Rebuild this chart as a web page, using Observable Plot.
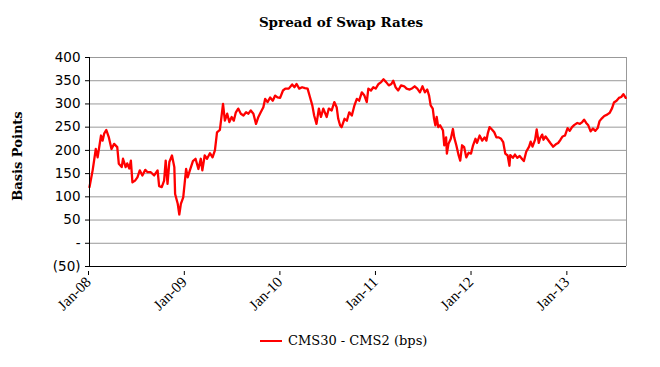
<!DOCTYPE html>
<html>
<head>
<meta charset="utf-8">
<script src="https://cdn.jsdelivr.net/npm/d3@7"></script>
<script src="https://cdn.jsdelivr.net/npm/@observablehq/plot@0.6"></script>
<style>
  html, body { margin: 0; padding: 0; background: #fff; }
  #wrap { width: 660px; height: 367px; overflow: hidden; background: #fff; }
  #title { height: 45px; box-sizing: border-box; padding-top: 14px; padding-left: 22px; text-align: center;
           font-family: "DejaVu Serif", serif; font-weight: bold; font-size: 13.5px; line-height: 16px; color: #000; }
  #legend { height: 47px; box-sizing: border-box; padding-top: 13px; padding-left: 260px;
            font-family: "DejaVu Serif", serif; font-size: 13px; line-height: 16px; color: #000; white-space: nowrap; }
  #legend .swatch { display: inline-block; width: 22px; height: 0; border-top: 2px solid #ff0000; vertical-align: middle; margin-right: 6px; position: relative; top: -1px; }
  svg { display: block; }
</style>
</head>
<body>
<div id="wrap">
  <div id="title">Spread of Swap Rates</div>
  <div id="chart"></div>
  <div id="legend"><span class="swatch"></span>CMS30 - CMS2 (bps)</div>
</div>
<script>
const seriesName = "CMS30 - CMS2 (bps)";
const dates = [
"2008-01-01","2008-01-13","2008-01-25","2008-02-01","2008-02-14","2008-02-20","2008-02-26","2008-03-05","2008-03-15","2008-03-25",
"2008-04-04","2008-04-16","2008-04-22","2008-05-03","2008-05-08","2008-05-18","2008-05-24","2008-06-01","2008-06-07","2008-06-13",
"2008-06-23","2008-07-02","2008-07-11","2008-07-21","2008-08-01","2008-08-10","2008-08-22","2008-09-04","2008-09-17","2008-09-23",
"2008-10-03","2008-10-12","2008-10-18","2008-10-25","2008-11-01","2008-11-11","2008-11-20","2008-11-23","2008-12-03","2008-12-09",
"2008-12-15","2008-12-24","2009-01-04","2009-01-10","2009-01-19","2009-01-30","2009-02-09","2009-02-20","2009-03-01","2009-03-07",
"2009-03-16","2009-03-25","2009-04-05","2009-04-15","2009-04-24","2009-05-02","2009-05-13","2009-05-19","2009-05-25","2009-06-01",
"2009-06-10","2009-06-18","2009-06-27","2009-07-05","2009-07-13","2009-07-22","2009-08-01","2009-08-11","2009-08-21","2009-08-30",
"2009-09-08","2009-09-18","2009-09-28","2009-10-07","2009-10-16","2009-10-26","2009-11-02","2009-11-11","2009-11-21","2009-12-01",
"2009-12-10","2009-12-19","2009-12-29","2010-01-09","2010-01-18","2010-01-31","2010-02-13","2010-02-22","2010-03-02","2010-03-12",
"2010-03-23","2010-04-03","2010-04-13","2010-04-22","2010-05-01","2010-05-08","2010-05-17","2010-05-26","2010-06-03","2010-06-12",
"2010-06-25","2010-07-03","2010-07-14","2010-07-24","2010-08-02","2010-08-08","2010-08-15","2010-08-21","2010-09-01","2010-09-10",
"2010-09-19","2010-09-29","2010-10-09","2010-10-18","2010-10-27","2010-11-06","2010-11-16","2010-11-25","2010-12-01","2010-12-11",
"2010-12-20","2010-12-29","2011-01-09","2011-01-19","2011-01-28","2011-02-07","2011-02-17","2011-02-27","2011-03-06","2011-03-15",
"2011-03-25","2011-04-05","2011-04-17","2011-04-26","2011-05-08","2011-05-18","2011-05-27","2011-06-06","2011-06-16","2011-06-26",
"2011-07-05","2011-07-14","2011-07-21","2011-07-27","2011-08-04","2011-08-09","2011-08-14","2011-08-19","2011-08-25","2011-09-01",
"2011-09-12","2011-09-17","2011-09-24","2011-09-27","2011-10-03","2011-10-12","2011-10-20","2011-10-25","2011-11-02","2011-11-11",
"2011-11-17","2011-11-24","2011-12-02","2011-12-10","2011-12-19","2011-12-28","2012-01-05","2012-01-14","2012-01-20","2012-01-30",
"2012-02-09","2012-02-18","2012-02-25","2012-03-01","2012-03-08","2012-03-17","2012-03-26","2012-04-03","2012-04-12","2012-04-21",
"2012-04-29","2012-05-07","2012-05-16","2012-05-23","2012-05-26","2012-06-05","2012-06-13","2012-06-22","2012-07-01","2012-07-11",
"2012-07-17","2012-07-26","2012-08-06","2012-08-12","2012-08-19","2012-08-29","2012-09-04","2012-09-12","2012-09-17","2012-09-25",
"2012-09-30","2012-10-08","2012-10-17","2012-10-26","2012-11-06","2012-11-16","2012-11-25","2012-12-04","2012-12-12","2012-12-21",
"2012-12-31","2013-01-08","2013-01-17","2013-01-26","2013-02-06","2013-02-16","2013-02-25","2013-03-04","2013-03-12","2013-03-20",
"2013-03-29","2013-04-07","2013-04-16","2013-04-25","2013-05-02","2013-05-11","2013-05-20","2013-05-31","2013-06-10","2013-06-19",
"2013-06-26","2013-07-06","2013-07-15","2013-07-24","2013-08-01","2013-08-10"
];
const spread = [
121,157,203,185,232,221,236,244,228,203,
214,207,171,164,182,164,172,161,178,131,
135,142,157,146,158,153,153,146,157,123,
121,135,178,128,175,189,164,106,85,62,
85,99,160,142,158,177,182,160,182,157,
189,182,194,185,200,239,244,272,300,264,
279,261,272,264,282,290,279,275,282,279,
286,279,257,272,282,293,311,304,314,307,
318,314,313,329,333,333,342,336,343,333,
336,334,333,315,297,275,257,290,272,290,
272,290,286,304,293,268,254,250,268,264,
282,275,297,311,307,325,318,304,333,329,
336,333,343,347,353,347,340,343,350,336,
329,340,338,333,331,334,338,333,325,338,
325,331,318,297,290,268,254,272,250,254,
243,211,228,193,214,225,246,228,211,189,
178,211,207,185,195,193,211,225,216,232,
221,228,221,236,250,245,239,228,228,225,
218,193,189,167,190,184,191,184,188,181,
177,197,208,219,208,223,245,216,226,234,
223,230,223,216,208,213,216,223,230,232,
248,242,250,255,259,257,261,266,259,254,
241,247,242,248,263,269,274,277,281,291,
303,307,313,315,321,313
];
const yTicks = [-50, 0, 50, 100, 150, 200, 250, 300, 350, 400];
const xTickLabels = ["Jan-08","Jan-09","Jan-10","Jan-11","Jan-12","Jan-13"];
const xStart = "2008-01-01";
const xEnd = "2013-08-13";

const parse = d3.utcParse("%Y-%m-%d");
const data = dates.map((d, i) => ({date: parse(d), value: spread[i]}));
const xTicks = xTickLabels.map(s => d3.utcParse("%b-%y")(s));
const x0 = parse(xStart), x1 = parse(xEnd);
const yFmt = v => v === 0 ? "-" : v < 0 ? `(${-v})` : String(v);

const chart = Plot.plot({
  width: 660,
  height: 275,
  marginTop: 12,
  marginBottom: 54,
  marginLeft: 89,
  marginRight: 34,
  style: {background: "#fff", color: "#000", overflow: "visible"},
  x: {type: "utc", domain: [x0, x1]},
  y: {domain: [-50, 400]},
  marks: [
    Plot.gridY(yTicks, {stroke: "#999", strokeOpacity: 1, strokeWidth: 1}),
    Plot.ruleX([x1], {stroke: "#999", strokeWidth: 1}),
    Plot.line(data, {x: "date", y: "value", stroke: "#ff0000", strokeWidth: 2.3}),
    Plot.ruleX([x0], {stroke: "#000", strokeWidth: 1}),
    Plot.ruleY([-50], {stroke: "#000", strokeWidth: 1}),
    Plot.axisY(yTicks, {tickFormat: yFmt, tickSize: 4, tickPadding: 5, fontFamily: "DejaVu Sans", fontSize: 13.5, label: null}),
    Plot.axisX(xTicks, {tickFormat: d3.utcFormat("%b-%y"), tickRotate: -45, tickSize: 4, tickPadding: 4, dx: -1, dy: 5,
      fontFamily: "Liberation Serif", fontSize: 15, label: null}),
    Plot.text(["Basis Points"], {text: d => d, frameAnchor: "left", dx: -72, dy: -6, rotate: -90, textAnchor: "middle",
      fontWeight: "bold", fontFamily: "DejaVu Serif", fontSize: 13, fill: "#000"})
  ]
});
document.getElementById("chart").appendChild(chart);
</script>
</body>
</html>
